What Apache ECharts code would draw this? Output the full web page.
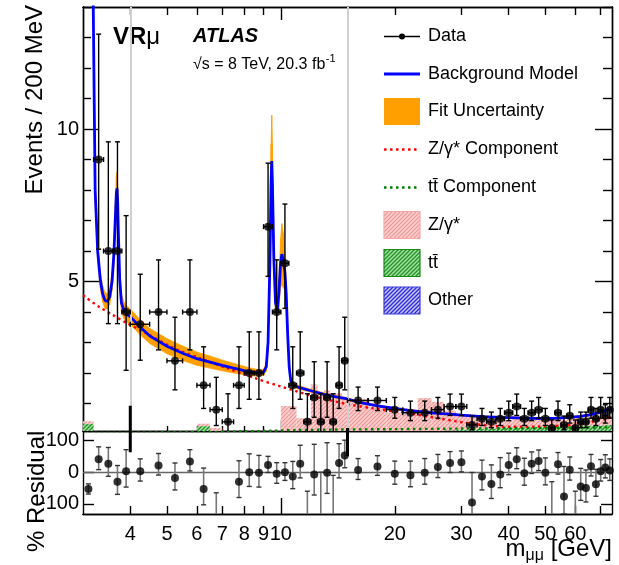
<!DOCTYPE html>
<html>
<head>
<meta charset="utf-8">
<title>VRmu dimuon invariant mass</title>
<script src="https://cdn.jsdelivr.net/npm/echarts@6.0.0/dist/echarts.min.js"></script>
<style>
html, body { margin: 0; padding: 0; background: #fff; }
#chart { width: 619px; height: 565px; }
</style>
</head>
<body>
<div id="chart"></div>
<script>
// ---------------- data ----------------
// bin centres and widths (GeV)
const massCenter = [3.1, 3.3, 3.5, 3.7, 3.9,
  4.25, 4.75, 5.25, 5.75, 6.25, 6.75, 7.25, 7.75, 8.25, 8.75, 9.25, 9.75, 10.25, 10.75, 11.25, 11.75, 12.25, 12.75, 13.25, 13.75, 14.25, 14.75,
  16, 18, 20, 22, 24, 26, 28, 30, 32, 34, 36, 38, 40, 42, 44, 46, 48, 50, 52, 54, 56, 58, 60, 62, 64, 66, 68, 70, 72, 74];
const binWidth = [0.2, 0.2, 0.2, 0.2, 0.2,
  0.5, 0.5, 0.5, 0.5, 0.5, 0.5, 0.5, 0.5, 0.5, 0.5, 0.5, 0.5, 0.5, 0.5, 0.5, 0.5, 0.5, 0.5, 0.5, 0.5, 0.5, 0.5,
  2, 2, 2, 2, 2, 2, 2, 2, 2, 2, 2, 2, 2, 2, 2, 2, 2, 2, 2, 2, 2, 2, 2, 2, 2, 2, 2, 2, 2, 2];

// data, events / 200 MeV, with asymmetric errors
const dataY = [45, 9, 6, 6, 4,
  3.6, 4.0, 2.4, 4.0, 1.6, 0.8, 0.4, 1.6, 2.0, 2.0, 6.8, 4.0, 5.6, 1.6, 2.0, 0.4, 1.2, 0.4, 1.2, 0.4, 1.6, 2.4,
  1.1, 1.1, 0.8, 0.7, 0.7, 0.8, 0.9, 0.9, 0.3, 0.5, 0.4, 0.5, 0.7, 0.9, 0.5, 0.7, 0.8, 0.5, 0.2, 0.7, 0.3, 0.6, 0.2, 0.4, 0.4, 0.8, 0.5, 0.8, 0.6, 0.8];
const dataErrDn = [6.7, 2.94, 2.38, 2.38, 1.91,
  1.18, 1.24, 0.95, 1.24, 0.76, 0.52, 0.33, 0.76, 0.86, 0.86, 1.63, 1.24, 1.48, 0.76, 0.86, 0.33, 0.65, 0.33, 0.65, 0.33, 0.76, 0.95,
  0.33, 0.33, 0.28, 0.26, 0.26, 0.28, 0.29, 0.29, 0.16, 0.22, 0.19, 0.22, 0.26, 0.29, 0.22, 0.26, 0.28, 0.22, 0.13, 0.26, 0.16, 0.24, 0.13, 0.19, 0.19, 0.28, 0.22, 0.28, 0.24, 0.28];
const dataErrUp = [7.8, 4.11, 3.58, 3.58, 3.16,
  1.64, 1.71, 1.43, 1.71, 1.26, 1.06, 0.92, 1.26, 1.35, 1.35, 2.08, 1.71, 1.94, 1.26, 1.35, 0.92, 1.17, 0.92, 1.17, 0.92, 1.26, 1.43,
  0.44, 0.44, 0.40, 0.38, 0.38, 0.40, 0.41, 0.41, 0.29, 0.34, 0.32, 0.34, 0.38, 0.41, 0.34, 0.38, 0.40, 0.34, 0.26, 0.38, 0.29, 0.36, 0.26, 0.32, 0.32, 0.40, 0.34, 0.40, 0.36, 0.40];

// simulated backgrounds per bin (stacked: other, ttbar, Z/gamma*)
const zgHist = [0.08, 0, 0, 0, 0,
  0, 0, 0, 0, 0.08, 0.2, 0, 0, 0, 0, 0, 0, 0.9, 0.9, 0.5, 0.5, 1.6, 1.25, 1.4, 1.3, 1.3, 1.15,
  1.1, 0.85, 0.65, 0.6, 1.1, 0.95, 0.65, 0.45, 0.4, 0.35, 0.3, 0.3, 0.25, 0.3, 0.3, 0.2, 0.3, 0.25, 0.2, 0.25, 0.2, 0.3, 0.3, 0.2, 0.35, 0.3, 0.4, 0.4, 0.35, 0.3];
const ttHist = [0.34, 0, 0, 0, 0,
  0, 0, 0, 0, 0.26, 0, 0, 0, 0, 0, 0, 0, 0.02, 0.02, 0.02, 0.02, 0.03, 0.03, 0.03, 0.03, 0.04, 0.04,
  0.05, 0.05, 0.06, 0.08, 0.08, 0.1, 0.12, 0.15, 0.15, 0.18, 0.18, 0.2, 0.2, 0.22, 0.22, 0.24, 0.24, 0.25, 0.25, 0.25, 0.26, 0.26, 0.27, 0.27, 0.28, 0.28, 0.28, 0.28, 0.3, 0.3];
const otherHist = [0, 0, 0, 0, 0,
  0, 0, 0, 0, 0, 0, 0, 0, 0, 0, 0, 0, 0, 0, 0, 0, 0, 0, 0, 0, 0, 0,
  0, 0, 0, 0, 0, 0, 0, 0, 0, 0, 0, 0, 0, 0, 0, 0, 0, 0, 0.02, 0, 0, 0, 0.02, 0, 0, 0, 0, 0, 0, 0];

// fitted background model and its uncertainty
const modelMass = [3.05, 3.10, 3.15, 3.19, 3.23, 3.28, 3.33, 3.38, 3.43, 3.48, 3.53, 3.58, 3.62, 3.65, 3.675, 3.69, 3.705, 3.72, 3.75, 3.79,
  3.85, 3.9, 4.0, 4.25, 4.5, 5.0, 5.5, 6.0, 6.5, 7.0, 7.5, 8.0, 8.5, 8.8, 9.0, 9.15, 9.25, 9.35, 9.42, 9.46,
  9.5, 9.58, 9.68, 9.78, 9.88, 9.98, 10.06, 10.15, 10.25, 10.33, 10.42, 10.52, 10.62, 10.8, 11.2, 12, 13, 14, 15, 16,
  18, 20, 22, 24, 26, 28, 30, 34, 38, 42, 46, 50, 54, 58, 62, 66, 70, 75];
const modelY = [60, 38, 22, 14.5, 8.0, 6.0, 5.1, 4.6, 4.38, 4.35, 4.5, 5.0, 5.9, 7.0, 7.9, 8.05, 7.6, 6.6, 5.1, 4.3,
  4.05, 3.95, 3.85, 3.5, 3.22, 2.88, 2.65, 2.47, 2.36, 2.25, 2.16, 2.08, 2.02, 2.0, 2.03, 2.2, 3.0, 5.5, 8.2, 8.95,
  8.2, 5.8, 4.3, 4.05, 4.6, 5.6, 5.9, 5.7, 5.3, 4.6, 3.3, 2.2, 1.75, 1.6, 1.52, 1.42, 1.3, 1.22, 1.15, 1.05,
  0.92, 0.84, 0.77, 0.72, 0.68, 0.65, 0.62, 0.57, 0.545, 0.53, 0.515, 0.51, 0.52, 0.55, 0.58, 0.64, 0.72, 0.85];
const fitUnc = [1.5, 1.2, 0.8, 0.6, 0.45, 0.35, 0.3, 0.28, 0.26, 0.25, 0.25, 0.3, 0.4, 0.5, 0.55, 0.55, 0.5, 0.45, 0.35, 0.3,
  0.28, 0.27, 0.26, 0.25, 0.25, 0.25, 0.24, 0.22, 0.2, 0.18, 0.16, 0.14, 0.12, 0.1, 0.1, 0.15, 0.3, 0.8, 1.3, 1.5,
  1.3, 0.7, 0.35, 0.3, 0.5, 0.8, 1.0, 0.9, 0.6, 0.4, 0.25, 0.15, 0.1, 0.08, 0.06, 0.05, 0.05, 0.04, 0.04, 0.04,
  0.03, 0.03, 0.03, 0.03, 0.03, 0.03, 0.03, 0.03, 0.03, 0.03, 0.03, 0.03, 0.03, 0.03, 0.03, 0.03, 0.03, 0.03];

// fitted components
const zgCompMass = [3.0, 3.3, 3.6, 3.9, 4.4, 5.2, 6.1, 7.2, 8.5, 10, 12.2, 15, 17.6, 21.6, 26.5, 32.4, 39.8, 48.7, 59.8, 67.4, 75];
const zgComp = [4.55, 4.18, 3.9, 3.65, 3.31, 2.82, 2.49, 2.16, 1.84, 1.56, 1.24, 0.98, 0.84, 0.69, 0.5, 0.33, 0.24, 0.25, 0.31, 0.42, 0.55];
const ttCompMass = [3, 6, 9, 11, 15, 20, 30, 40, 50, 60, 75];
const ttComp = [0.03, 0.06, 0.1, 0.13, 0.15, 0.16, 0.18, 0.19, 0.2, 0.21, 0.22];

// residual (data - model) / data in %
const residY = [-53, 41, 27, -30, 3,
  3, 21, -18, 34, -53, -195, -460, -30, 0, -2, 23, -5, 0, -14, 27, -290, -7, -230, -2, -240, 29, 53,
  7, 18, -5, -10, -2, 16, 29, 31, -96, -14, -37, -7, 23, 41, -3, 27, 35, -2, -160, 25, -77, 8, -190, -45, -50, 19, -38, 3, 15, 5];
const residErrUp = [16, 39, 51, 51, 68,
  39, 38, 47, 37, 66, 130, 230, 66, 58, 55, 27, 35, 30, 48, 58, 230, 95, 230, 95, 230, 61, 48,
  36, 34, 40, 45, 45, 40, 36, 36, 95, 52, 60, 53, 37, 36, 47, 37, 35, 47, 130, 37, 95, 40, 130, 57, 57, 37, 47, 37, 40, 37];
const residErrDn = [16, 33, 40, 40, 50,
  31, 30, 38, 30, 50, 52, 83, 50, 45, 45, 24, 30, 26, 38, 45, 83, 65, 83, 65, 83, 47, 39,
  30, 28, 33, 36, 36, 33, 30, 30, 55, 42, 46, 42, 31, 30, 38, 31, 30, 38, 65, 31, 55, 33, 65, 44, 44, 31, 38, 31, 33, 31];

// validation region edges (GeV) and the extent of their boundary markers
const vrEdges = [4, 15];
const vrMarkTopMain = [0.93, 0.2];     // events / 200 MeV
const vrMarkLowResid = [63, 50];       // %

// axis ticks
const xMinorTicks = [4, 5, 6, 7, 8, 9, 20, 30, 40, 50, 60, 70];
const xMajorTicks = [10];
const xTickLabels = [4, 5, 6, 7, 8, 9, 10, 20, 30, 40, 50, 60];
const yMinorTicks = [1, 2, 3, 4, 6, 7, 8, 9, 11, 12, 13, 14];
const yMajorTicks = [5, 10];
const residTicks = [-100, 0, 100];

// ---------------- helpers ----------------
const FONT = '"Liberation Sans", Arial, Helvetica, sans-serif';
const measureCtx = document.createElement('canvas').getContext('2d');
function textWidth(str, font) { measureCtx.font = font; return measureCtx.measureText(str).width; }

function hatch(bg, fg, step, lw) {
  const c = document.createElement('canvas');
  c.width = step; c.height = step;
  const g = c.getContext('2d');
  g.fillStyle = bg; g.fillRect(0, 0, step, step);
  g.strokeStyle = fg; g.lineWidth = lw;
  g.beginPath();
  g.moveTo(-1, step + 1); g.lineTo(step + 1, -1);
  g.moveTo(-1, 1); g.lineTo(1, -1);
  g.moveTo(step - 1, step + 1); g.lineTo(step + 1, step - 1);
  g.stroke();
  return { image: c, repeat: 'repeat' };
}
const pinkFill = hatch('#fbd0d0', '#f29494', 4, 1.2);
const greenFill = hatch('#a8dca8', '#1e961e', 4, 1.3);
const blueFill = hatch('#c8c8ff', '#2b2bd8', 4, 1.3);
const ORANGE = '#ff9f00';

// stacked histogram rectangles [lo, hi, base, top]
const otherRects = [], ttRects = [], zgRects = [];
massCenter.forEach((m, i) => {
  const lo = m - binWidth[i] / 2, hi = m + binWidth[i] / 2;
  const b0 = otherHist[i], b1 = b0 + ttHist[i], b2 = b1 + zgHist[i];
  if (otherHist[i] > 0) otherRects.push([lo, hi, 0, b0]);
  if (ttHist[i] > 0) ttRects.push([lo, hi, b0, b1]);
  if (zgHist[i] > 0) zgRects.push([lo, hi, b1, b2]);
});
function rectRenderer(fill) {
  return function (params, api) {
    const a = api.coord([api.value(0), api.value(3)]);
    const b = api.coord([api.value(1), api.value(2)]);
    return { type: 'rect', shape: { x: a[0], y: a[1], width: b[0] - a[0], height: b[1] - a[1] }, style: { fill: fill } };
  };
}

// fit uncertainty band as consecutive quads [m0, lo0, hi0, m1, lo1, hi1]
const bandSegs = [];
for (let i = 0; i + 1 < modelMass.length; i++) {
  bandSegs.push([modelMass[i], modelY[i] - fitUnc[i], modelY[i] + fitUnc[i],
                 modelMass[i + 1], modelY[i + 1] - fitUnc[i + 1], modelY[i + 1] + fitUnc[i + 1]]);
}
function bandRenderer(params, api) {
  const p1 = api.coord([api.value(0), api.value(1)]);
  const p2 = api.coord([api.value(0), api.value(2)]);
  const p3 = api.coord([api.value(3), api.value(5)]);
  const p4 = api.coord([api.value(3), api.value(4)]);
  return { type: 'polygon', shape: { points: [p1, p2, p3, p4] }, style: { fill: ORANGE, stroke: ORANGE, lineWidth: 0.6 } };
}

const dataBars = massCenter.map((m, i) => [m, dataY[i], dataErrDn[i], dataErrUp[i], m - binWidth[i] / 2, m + binWidth[i] / 2]);
const dataPts = massCenter.map((m, i) => [m, dataY[i]]);
const residBars = massCenter.map((m, i) => [m, residY[i], residErrDn[i], residErrUp[i]]);
const residPts = massCenter.map((m, i) => [m, residY[i]]);
const modelLine = modelMass.map((m, i) => [m, modelY[i]]);
const zgLine = zgCompMass.map((m, i) => [m, zgComp[i]]);
const ttLine = ttCompMass.map((m, i) => [m, ttComp[i]]);

function dataBarRenderer(params, api) {
  const m = api.value(0), y = api.value(1);
  const c = api.coord([m, y]);
  const t = api.coord([m, y + api.value(3)]);
  const b = api.coord([m, y - api.value(2)]);
  const l = api.coord([api.value(4), y]);
  const r = api.coord([api.value(5), y]);
  const cap = 2.5, st = { stroke: '#000', lineWidth: 1.4 };
  return { type: 'group', children: [
    { type: 'line', shape: { x1: c[0], y1: t[1], x2: c[0], y2: b[1] }, style: st },
    { type: 'line', shape: { x1: c[0] - cap, y1: t[1], x2: c[0] + cap, y2: t[1] }, style: st },
    { type: 'line', shape: { x1: c[0] - cap, y1: b[1], x2: c[0] + cap, y2: b[1] }, style: st },
    { type: 'line', shape: { x1: l[0], y1: c[1], x2: r[0], y2: c[1] }, style: st },
    { type: 'line', shape: { x1: l[0], y1: c[1] - cap, x2: l[0], y2: c[1] + cap }, style: st },
    { type: 'line', shape: { x1: r[0], y1: c[1] - cap, x2: r[0], y2: c[1] + cap }, style: st }
  ] };
}
function residBarRenderer(params, api) {
  const m = api.value(0), y = api.value(1);
  const t = api.coord([m, y + api.value(3)]);
  const b = api.coord([m, y - api.value(2)]);
  const cap = 2.5;
  return { type: 'group', children: [
    { type: 'line', shape: { x1: t[0], y1: t[1], x2: b[0], y2: b[1] }, style: { stroke: '#777', lineWidth: 1.6 } },
    { type: 'line', shape: { x1: t[0] - cap, y1: t[1], x2: t[0] + cap, y2: t[1] }, style: { stroke: '#333', lineWidth: 1.4 } },
    { type: 'line', shape: { x1: b[0] - cap, y1: b[1], x2: b[0] + cap, y2: b[1] }, style: { stroke: '#333', lineWidth: 1.4 } }
  ] };
}

// ---------------- axes ----------------
const axisLineStyle = { color: '#000', width: 1.4 };
function xAxisDef(grid, pos, ticks, len, labels) {
  return {
    type: 'log', logBase: 10, gridIndex: grid, position: pos, min: 3, max: 75,
    axisLine: { show: true, onZero: false, lineStyle: axisLineStyle },
    axisTick: { show: ticks.length > 0, inside: true, length: len, customValues: ticks, lineStyle: axisLineStyle },
    axisLabel: labels ? { show: true, customValues: labels, margin: 10, color: '#000', fontSize: 20, fontFamily: FONT, formatter: v => String(v) } : { show: false },
    splitLine: { show: false }, minorTick: { show: false }, minorSplitLine: { show: false }
  };
}
function yAxisDef(grid, pos, min, max, ticks, len, labels) {
  return {
    type: 'value', gridIndex: grid, position: pos, min: min, max: max,
    axisLine: { show: true, onZero: false, lineStyle: axisLineStyle },
    axisTick: { show: true, inside: true, length: len, customValues: ticks, lineStyle: axisLineStyle },
    axisLabel: labels ? { show: true, customValues: labels, margin: 4, color: '#000', fontSize: 20, fontFamily: FONT, formatter: v => String(v) } : { show: false },
    splitLine: { show: false }
  };
}

const xAxes = [
  xAxisDef(0, 'bottom', xMinorTicks, 5, null),
  xAxisDef(0, 'bottom', xMajorTicks, 11, null),
  xAxisDef(0, 'top', xMinorTicks, 8, null),
  xAxisDef(0, 'top', xMajorTicks, 13, null),
  xAxisDef(1, 'bottom', xMinorTicks, 8, xTickLabels),
  xAxisDef(1, 'bottom', xMajorTicks, 16, null)
];
const yAxes = [
  yAxisDef(0, 'left', 0.1, 14, yMinorTicks, 8, yMajorTicks),
  yAxisDef(0, 'left', 0.1, 14, yMajorTicks, 16, null),
  yAxisDef(0, 'right', 0.1, 14, yMinorTicks, 9, null),
  yAxisDef(0, 'right', 0.1, 14, yMajorTicks, 17, null),
  yAxisDef(1, 'left', -132, 130, residTicks, 11, residTicks),
  yAxisDef(1, 'right', -132, 130, [-100, 100], 11, null)
];

// ---------------- legend & texts ----------------
const legendX = 384, legendTextX = 428;
const rowY = [36.5, 74, 111.5, 149.5, 187.5, 225, 263, 300.5];
const legendFont = 'normal 18px ' + FONT;
const legendLabels = ['Data', 'Background Model', 'Fit Uncertainty', 'Z/\u03b3* Component', 'tt\u0304 Component', 'Z/\u03b3*', 'tt\u0304', 'Other'];
const graphics = [];
graphics.push({ type: 'line', shape: { x1: legendX, y1: rowY[0], x2: legendX + 36, y2: rowY[0] }, style: { stroke: '#000', lineWidth: 1.4 } });
graphics.push({ type: 'circle', shape: { cx: legendX + 18, cy: rowY[0], r: 3 }, style: { fill: '#000' } });
graphics.push({ type: 'line', shape: { x1: legendX, y1: rowY[1], x2: legendX + 36, y2: rowY[1] }, style: { stroke: '#0000ff', lineWidth: 2.8 } });
graphics.push({ type: 'rect', shape: { x: legendX, y: rowY[2] - 13.5, width: 36, height: 27 }, style: { fill: ORANGE } });
graphics.push({ type: 'line', shape: { x1: legendX, y1: rowY[3], x2: legendX + 36, y2: rowY[3] }, style: { stroke: '#ff0000', lineWidth: 2.4, lineDash: [2.5, 3.5] } });
graphics.push({ type: 'line', shape: { x1: legendX, y1: rowY[4], x2: legendX + 36, y2: rowY[4] }, style: { stroke: '#008000', lineWidth: 2.4, lineDash: [2.5, 3.5] } });
graphics.push({ type: 'rect', shape: { x: legendX, y: rowY[5] - 13.5, width: 36, height: 27 }, style: { fill: pinkFill, stroke: '#f5a8a8', lineWidth: 1.2 } });
graphics.push({ type: 'rect', shape: { x: legendX, y: rowY[6] - 13.5, width: 36, height: 27 }, style: { fill: greenFill, stroke: '#168c16', lineWidth: 1.2 } });
graphics.push({ type: 'rect', shape: { x: legendX, y: rowY[7] - 13.5, width: 36, height: 27 }, style: { fill: blueFill, stroke: '#3a3ae0', lineWidth: 1.2 } });
legendLabels.forEach((t, i) => {
  graphics.push({ type: 'text', x: legendTextX, y: rowY[i], style: { text: t, font: legendFont, fill: '#000', textAlign: 'left', textVerticalAlign: 'middle' } });
});

// region label, experiment label, energy and luminosity
const vrFontB = 'bold 24px ' + FONT, vrFont = 'normal 24px ' + FONT;
graphics.push({ type: 'text', x: 113, y: 37, style: { text: 'VR', font: vrFontB, fill: '#000', textAlign: 'left', textVerticalAlign: 'middle' } });
graphics.push({ type: 'text', x: 113 + textWidth('VR', vrFontB), y: 37, style: { text: '\u03bc', font: vrFont, fill: '#000', textAlign: 'left', textVerticalAlign: 'middle' } });
graphics.push({ type: 'text', x: 193, y: 36.5, style: { text: 'ATLAS', font: 'italic bold 20px ' + FONT, fill: '#000', textAlign: 'left', textVerticalAlign: 'middle' } });
const lumiFont = 'normal 16px ' + FONT;
const lumiText = '\u221as = 8 TeV, 20.3 fb';
graphics.push({ type: 'text', x: 193, y: 65, style: { text: lumiText, font: lumiFont, fill: '#000', textAlign: 'left', textVerticalAlign: 'middle' } });
graphics.push({ type: 'text', x: 193 + textWidth(lumiText, lumiFont) + 0.5, y: 59, style: { text: '-1', font: 'normal 11px ' + FONT, fill: '#000', textAlign: 'left', textVerticalAlign: 'middle' } });

// axis titles
const titleFont = 'normal 24px ' + FONT;
graphics.push({ type: 'text', x: 35, y: 5, rotation: Math.PI / 2, style: { text: 'Events / 200 MeV', font: titleFont, fill: '#000', textAlign: 'right', textVerticalAlign: 'middle' } });
graphics.push({ type: 'text', x: 37, y: 552, rotation: Math.PI / 2, style: { text: '% Residual', font: titleFont, fill: '#000', textAlign: 'left', textVerticalAlign: 'middle' } });
const subFont = 'normal 16px ' + FONT;
const wM = textWidth('m', titleFont), wS = textWidth('\u03bc\u03bc', subFont), wG = textWidth(' [GeV]', titleFont);
const xStart = 612 - (wM + wS + wG);
graphics.push({ type: 'text', x: xStart, y: 549, style: { text: 'm', font: titleFont, fill: '#000', textAlign: 'left', textVerticalAlign: 'middle' } });
graphics.push({ type: 'text', x: xStart + wM, y: 556, style: { text: '\u03bc\u03bc', font: subFont, fill: '#000', textAlign: 'left', textVerticalAlign: 'middle' } });
graphics.push({ type: 'text', x: xStart + wM + wS, y: 549, style: { text: ' [GeV]', font: titleFont, fill: '#000', textAlign: 'left', textVerticalAlign: 'middle' } });

// ---------------- chart ----------------
const markStyle = { color: '#000', width: 3 };
const series = [
  { type: 'custom', name: 'Other', xAxisIndex: 0, yAxisIndex: 0, clip: true, renderItem: rectRenderer(blueFill), data: otherRects, encode: { x: [0, 1], y: [2, 3] }, z: 1,
    markLine: { silent: true, symbol: 'none', label: { show: false }, lineStyle: { color: '#d0d0d0', width: 2, type: 'solid' }, data: vrEdges.map(v => ({ xAxis: v })) } },
  { type: 'custom', name: 'ttbar', xAxisIndex: 0, yAxisIndex: 0, clip: true, renderItem: rectRenderer(greenFill), data: ttRects, encode: { x: [0, 1], y: [2, 3] }, z: 1 },
  { type: 'custom', name: 'Z/gamma*', xAxisIndex: 0, yAxisIndex: 0, clip: true, renderItem: rectRenderer(pinkFill), data: zgRects, encode: { x: [0, 1], y: [2, 3] }, z: 1 },
  { type: 'custom', name: 'Fit Uncertainty', xAxisIndex: 0, yAxisIndex: 0, clip: true, renderItem: bandRenderer, data: bandSegs, encode: { x: [0, 3], y: [1, 2, 4, 5] }, z: 2 },
  { type: 'line', name: 'Z/gamma* Component', xAxisIndex: 0, yAxisIndex: 0, data: zgLine, showSymbol: false, smooth: 0.3, lineStyle: { color: '#ff0000', width: 2.4, type: [2.5, 3.5] }, z: 3 },
  { type: 'line', name: 'ttbar Component', xAxisIndex: 0, yAxisIndex: 0, data: ttLine, showSymbol: false, smooth: 0.3, lineStyle: { color: '#008000', width: 2.4, type: [2.5, 3.5] }, z: 3 },
  { type: 'line', name: 'Background Model', xAxisIndex: 0, yAxisIndex: 0, data: modelLine, showSymbol: false, lineStyle: { color: '#0000ff', width: 2.8 }, z: 4 },
  { type: 'custom', name: 'Data errors', xAxisIndex: 0, yAxisIndex: 0, clip: true, renderItem: dataBarRenderer, data: dataBars, encode: { x: 0, y: 1 }, z: 5 },
  { type: 'scatter', name: 'Data', xAxisIndex: 0, yAxisIndex: 0, data: dataPts, symbol: 'circle', symbolSize: 8, itemStyle: { color: '#000' }, z: 6 },
  { type: 'custom', name: 'Residual errors', xAxisIndex: 4, yAxisIndex: 4, clip: true, renderItem: residBarRenderer, data: residBars, encode: { x: 0, y: 1 }, z: 5,
    markLine: { silent: true, symbol: 'none', label: { show: false }, lineStyle: { color: '#666', width: 1.3, type: 'solid' }, data: [{ yAxis: 0 }] } },
  { type: 'scatter', name: 'Residual', xAxisIndex: 4, yAxisIndex: 4, data: residPts, symbol: 'circle', symbolSize: 8, itemStyle: { color: '#000' }, z: 6 }
];
// boundary markers crossing the two panels
vrEdges.forEach((m, i) => {
  series.push({ type: 'line', xAxisIndex: 0, yAxisIndex: 0, data: [[m, 0.1], [m, vrMarkTopMain[i]]], showSymbol: false, lineStyle: markStyle, z: 7 });
  series.push({ type: 'line', xAxisIndex: 4, yAxisIndex: 4, data: [[m, 130], [m, vrMarkLowResid[i]]], showSymbol: false, lineStyle: markStyle, z: 7 });
});

const chart = echarts.init(document.getElementById('chart'), null, { renderer: 'canvas' });
chart.setOption({
  animation: false,
  backgroundColor: '#fff',
  grid: [
    { left: 83, top: 7, width: 529, height: 424 },
    { left: 83, top: 431, width: 529, height: 83 }
  ],
  xAxis: xAxes,
  yAxis: yAxes,
  graphic: { elements: graphics },
  series: series
});
</script>
</body>
</html>
